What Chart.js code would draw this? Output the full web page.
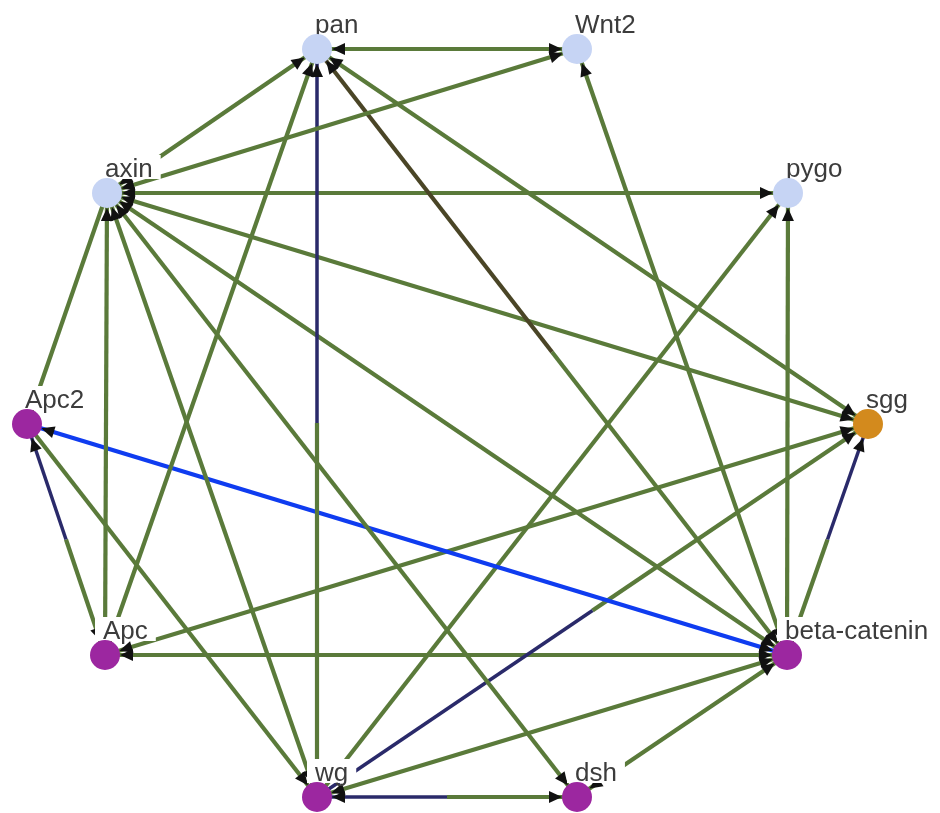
<!DOCTYPE html>
<html>
<head>
<meta charset="utf-8">
<script src="https://cdn.jsdelivr.net/npm/chart.js@4.4.0/dist/chart.umd.min.js"></script>
<style>
  html, body { margin: 0; padding: 0; background: #fff; }
  #wrap { width: 940px; height: 813px; }
</style>
</head>
<body>
<div id="wrap"><canvas id="net"></canvas></div>
<script>
// nodes (circular layout, positions)
var nodeNames  = ['pan', 'Wnt2', 'axin', 'pygo', 'Apc2', 'sgg', 'Apc', 'beta-catenin', 'wg', 'dsh'];
var nodeX      = [317, 577, 107, 788, 27, 868, 105, 787, 317, 577];
var nodeY      = [49, 49, 193, 193, 424, 424, 655, 655, 797, 797];
var nodeColors = ['#c6d4f4', '#c6d4f4', '#c6d4f4', '#c6d4f4', '#9c27a0', '#d38a1d', '#9c27a0', '#9c27a0', '#9c27a0', '#9c27a0'];

var G = '#5a7a3a', N = '#2a2a6a', B = '#0f3cf0', D = '#4a4526';

// edges: from/to node index, colour of each half, arrow at each end
var edgeFrom      = [0, 2, 2, 0, 6, 0, 0, 7, 2, 2, 2, 2, 2, 2, 2, 4, 4, 4, 5, 8, 5, 7, 8, 6, 8, 8, 9];
var edgeTo        = [1, 1, 0, 8, 0, 5, 7, 1, 3, 5, 7, 9, 8, 6, 4, 7, 6, 8, 6, 5, 7, 3, 3, 7, 7, 9, 7];
var edgeColorFrom = [G, G, G, N, G, G, D, G, G, G, G, G, G, G, G, B, N, G, G, N, N, G, G, G, G, N, G];
var edgeColorTo   = [G, G, G, G, G, G, G, G, G, G, G, G, G, G, G, B, G, G, G, G, G, G, G, G, G, G, G];
var arrowFrom     = [1, 1, 1, 1, 0, 1, 1, 1, 1, 1, 1, 1, 1, 1, 0, 1, 1, 0, 1, 0, 1, 0, 0, 1, 1, 1, 1];
var arrowTo       = [1, 1, 1, 0, 1, 1, 1, 1, 1, 1, 1, 1, 1, 0, 0, 1, 1, 1, 1, 1, 0, 1, 1, 1, 1, 1, 1];

var NODE_R = 15;

function widthFor(c) {
	if (c == N) return 3.5;
	return 4.2;
}

var datasets = [];

// node dataset first so it is drawn on top
datasets.push({
	label: 'nodes',
	data: nodeNames.map(function (n, i) { return {x: nodeX[i], y: nodeY[i]}; }),
	pointRadius: NODE_R,
	pointBackgroundColor: nodeColors,
	pointBorderWidth: 0,
	showLine: false,
	clip: false
});

for (var i = 0; i < edgeFrom.length; i++) {
	var a = edgeFrom[i], b = edgeTo[i];
	var mx = (nodeX[a] + nodeX[b]) / 2, my = (nodeY[a] + nodeY[b]) / 2;
	if (edgeColorFrom[i] == edgeColorTo[i]) {
		datasets.push({
			data: [{x: nodeX[a], y: nodeY[a]}, {x: nodeX[b], y: nodeY[b]}],
			showLine: true, pointRadius: 0, borderColor: edgeColorFrom[i],
			borderWidth: widthFor(edgeColorFrom[i]), borderCapStyle: 'butt'
		});
	} else {
		datasets.push({
			data: [{x: nodeX[a], y: nodeY[a]}, {x: mx, y: my}],
			showLine: true, pointRadius: 0, borderColor: edgeColorFrom[i],
			borderWidth: widthFor(edgeColorFrom[i]), borderCapStyle: 'butt'
		});
		datasets.push({
			data: [{x: mx, y: my}, {x: nodeX[b], y: nodeY[b]}],
			showLine: true, pointRadius: 0, borderColor: edgeColorTo[i],
			borderWidth: widthFor(edgeColorTo[i]), borderCapStyle: 'butt'
		});
	}
}

function drawArrow(ctx, tx, ty, sx, sy) {
	// arrow pointing at (tx,ty) coming from (sx,sy)
	var dx = tx - sx, dy = ty - sy;
	var len = Math.sqrt(dx * dx + dy * dy);
	var ux = dx / len, uy = dy / len;
	var tipX = tx - ux * NODE_R, tipY = ty - uy * NODE_R;
	var bx = tipX - ux * 13, by = tipY - uy * 13;
	ctx.beginPath();
	ctx.moveTo(tipX, tipY);
	ctx.lineTo(bx - uy * 6, by + ux * 6);
	ctx.lineTo(bx + uy * 6, by - ux * 6);
	ctx.closePath();
	ctx.fill();
}

var netPlugin = {
	id: 'netDecor',
	beforeDatasetDraw: function (chart, args) {
		if (args.index !== 0) return;
		var ctx = chart.ctx;
		var xs = chart.scales.x, ys = chart.scales.y;
		ctx.save();
		ctx.fillStyle = '#111';
		for (var i = 0; i < edgeFrom.length; i++) {
			var a = edgeFrom[i], b = edgeTo[i];
			var ax = xs.getPixelForValue(nodeX[a]), ay = ys.getPixelForValue(nodeY[a]);
			var bx = xs.getPixelForValue(nodeX[b]), by = ys.getPixelForValue(nodeY[b]);
			if (arrowTo[i]) drawArrow(ctx, bx, by, ax, ay);
			if (arrowFrom[i]) drawArrow(ctx, ax, ay, bx, by);
		}
		// labels with white box behind
		ctx.font = '26px "Liberation Sans", Arial, sans-serif';
		ctx.textBaseline = 'alphabetic';
		for (var j = 0; j < nodeNames.length; j++) {
			var px = xs.getPixelForValue(nodeX[j]) - 2;
			var py = ys.getPixelForValue(nodeY[j]) - 16;
			var w = ctx.measureText(nodeNames[j]).width;
			ctx.fillStyle = '#fff';
			ctx.fillRect(px - 8, py - 22, w + 16, 24);
			ctx.fillStyle = '#3c3c3c';
			ctx.fillText(nodeNames[j], px, py);
		}
		ctx.restore();
	}
};

var chart = new Chart(document.getElementById('net'), {
	type: 'scatter',
	data: { datasets: datasets },
	options: {
		responsive: true,
		maintainAspectRatio: false,
		animation: false,
		events: [],
		layout: { padding: 0, autoPadding: false },
		plugins: {
			legend: { display: false },
			tooltip: { enabled: false }
		},
		scales: {
			x: { type: 'linear', min: 0, max: 940, display: false },
			y: { type: 'linear', min: 0, max: 813, reverse: true, display: false }
		}
	},
	plugins: [netPlugin]
});
</script>
</body>
</html>
